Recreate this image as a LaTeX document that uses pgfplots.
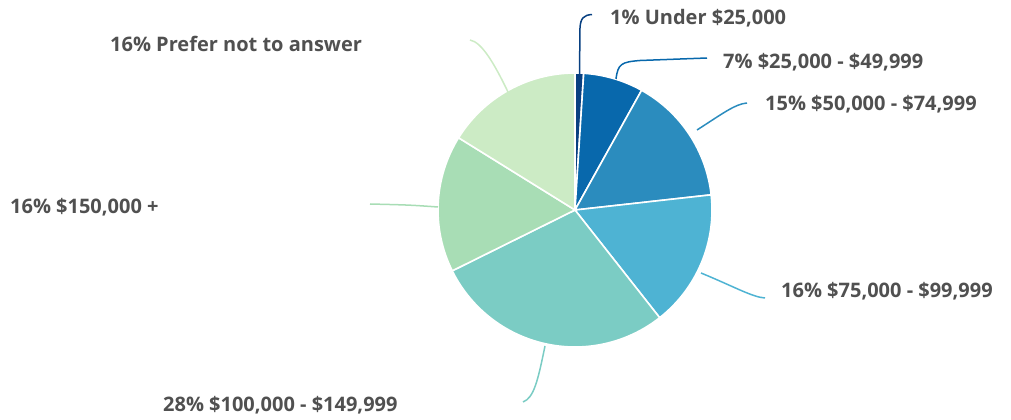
\documentclass[border=0pt]{standalone}
\usepackage{pgfplots}
\pgfplotsset{compat=1.18}
\usepackage{fontspec}
\setmainfont{Open Sans}
\definecolor{c1}{HTML}{084081}
\definecolor{c2}{HTML}{0868AC}
\definecolor{c3}{HTML}{2B8CBE}
\definecolor{c4}{HTML}{4EB3D3}
\definecolor{c5}{HTML}{7BCCC4}
\definecolor{c6}{HTML}{A8DDB5}
\definecolor{c7}{HTML}{CCEBC5}
\definecolor{txt}{HTML}{505050}
\begin{document}
\begin{tikzpicture}
\begin{axis}[
  scale only axis, width=1011bp, height=420bp,
  xmin=0, xmax=1011, ymin=0, ymax=420,
  hide axis, clip=false,
]
% pie slices: value / colour (total 99)
\xdef\acc{90}
\foreach \v/\c in {1/c1,7/c2,15/c3,16/c4,28/c5,16/c6,16/c7}{
  \pgfmathsetmacro\a{\acc-\v*360/99}
  \edef\doit{\noexpand\fill[\c, draw=white, line width=1.6bp, line join=round]
    (axis cs:575,210) -- ++(\acc:137bp) arc[start angle=\acc, end angle=\a, radius=137bp] -- cycle;}
  \doit
  \xdef\acc{\a}
}
% leader lines
\draw[c1, line width=1.5bp] (axis cs:579.5,346) -- (axis cs:580,392) .. controls (axis cs:580.5,402) and (axis cs:584,405) .. (axis cs:592,405.5);
\draw[c2, line width=1.5bp] (axis cs:616,341) .. controls (axis cs:618,356) and (axis cs:621,358) .. (axis cs:640,359.5) -- (axis cs:707,362);
\draw[c3, line width=1.5bp] (axis cs:697,290) .. controls (axis cs:722,306) and (axis cs:735,316) .. (axis cs:747,317);
\draw[c4, line width=1.5bp] (axis cs:701,147) .. controls (axis cs:735,133) and (axis cs:752,123) .. (axis cs:765,122);
\draw[c5, line width=1.5bp] (axis cs:545,74) .. controls (axis cs:538,40) and (axis cs:534,22) .. (axis cs:523,18);
\draw[c6, line width=1.5bp] (axis cs:438,213) .. controls (axis cs:410,215) .. (axis cs:370,216);
\draw[c7, line width=1.5bp] (axis cs:508,328) .. controls (axis cs:495,355) and (axis cs:482,378) .. (axis cs:470,380);
% labels
\tikzset{lab/.style={anchor=west, inner sep=0pt, text=txt, font=\fontsize{20bp}{24bp}\selectfont\bfseries}}
\node[lab] at (axis cs:610,402) {1\% Under \$25,000};
\node[lab] at (axis cs:723,358) {7\% \$25,000 - \$49,999};
\node[lab] at (axis cs:765,316) {15\% \$50,000 - \$74,999};
\node[lab] at (axis cs:781,129) {16\% \$75,000 - \$99,999};
\node[lab] at (axis cs:163,15) {28\% \$100,000 - \$149,999};
\node[lab] at (axis cs:10,213) {16\% \$150,000 +};
\node[lab] at (axis cs:110,376) {16\% Prefer not to answer};
\end{axis}
\pgfresetboundingbox
\path (0,0) rectangle (1011bp,420bp);
\end{tikzpicture}
\end{document}
